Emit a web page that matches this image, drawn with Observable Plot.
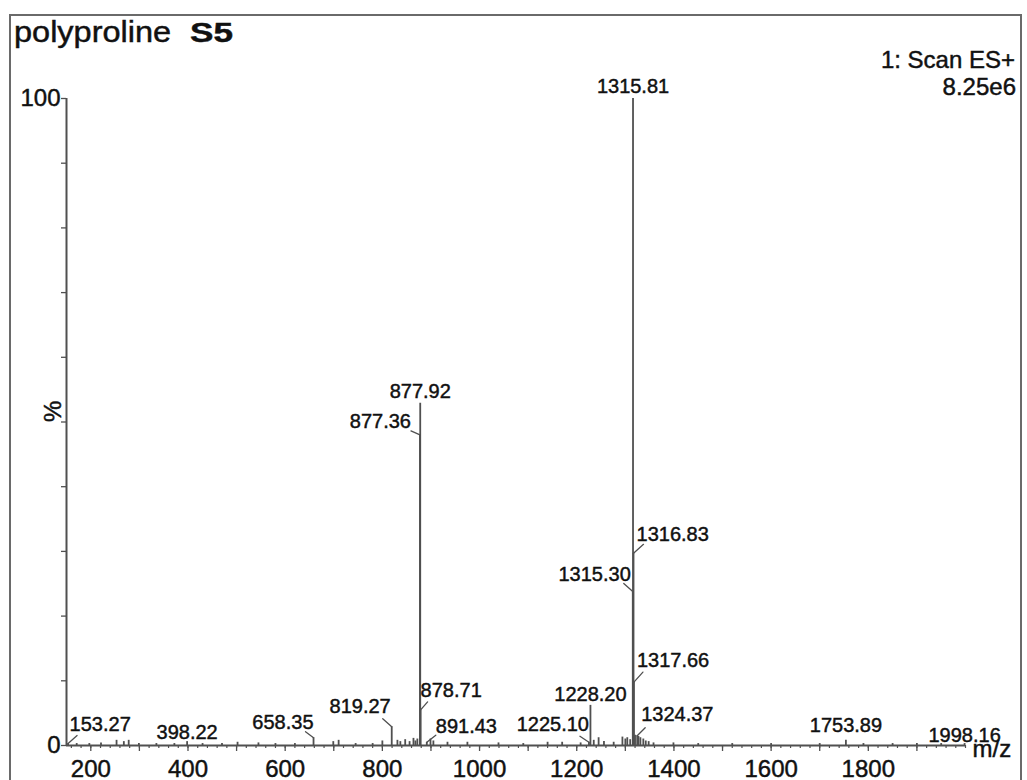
<!DOCTYPE html>
<html>
<head>
<meta charset="utf-8">
<script src="https://cdn.jsdelivr.net/npm/d3@7"></script>
<script src="https://cdn.jsdelivr.net/npm/@observablehq/plot@0.6"></script>
<style>
html, body { margin: 0; padding: 0; background: #fff; }
body { width: 1027px; height: 780px; overflow: hidden; position: relative; font-family: "Liberation Sans", Arial, sans-serif; }
#chart { position: absolute; left: 0; top: 0; }
#chart svg text { stroke: #111; stroke-width: 0.45px; }
#frame { position: absolute; left: 9px; top: 14px; width: 1013px; height: 820px; border: 2px solid #6a6a6a; box-sizing: border-box; pointer-events: none; }
.t { position: absolute; color: #111; white-space: nowrap; line-height: 1; -webkit-text-stroke: 0.45px #111; }
#title1 { left: 14px; top: 18px; font-size: 29px; transform: scaleX(1.12); transform-origin: 0 0; }
#title2 { left: 190px; top: 20px; font-size: 27px; font-weight: bold; transform: scaleX(1.3); transform-origin: 0 0; }
#scan { right: 12px; top: 48px; font-size: 24px; }
#intensity { right: 11px; top: 75px; font-size: 24px; }
</style>
</head>
<body>
<div id="chart"></div>
<div id="frame"></div>
<div class="t" id="title1">polyproline</div>
<div class="t" id="title2">S5</div>
<div class="t" id="scan">1: Scan ES+</div>
<div class="t" id="intensity">8.25e6</div>
<script>
// ---- data ----
const labelMz  = [1315.81, 877.92, 877.36, 1316.83, 1315.30, 1317.66, 1228.20, 1225.10, 891.43, 878.71, 819.27, 658.35, 398.22, 153.27, 1324.37, 1753.89, 1998.16];
const labelPct = [100, 52.9, 48.0, 29.7, 23.8, 9.8, 6.2, 0.5, 0.5, 5.5, 2.9, 1.2, 0.6, 0.3, 1.5, 0.8, 0.3];

const noiseMz  = [171, 197, 221, 253, 268, 278, 299, 335, 372, 430, 470, 502, 545, 580, 620, 699, 710, 745, 780, 800, 831, 837, 847, 856, 864, 868, 872, 899, 905, 934, 975, 1039, 1090, 1140, 1170, 1208, 1235, 1245, 1256, 1276, 1294, 1300, 1304, 1310, 1320, 1327, 1331, 1337, 1342, 1348, 1358, 1399, 1450, 1520, 1600, 1700, 1790, 1850, 1900, 1950];
const noisePct = [0.3, 0.3, 0.4, 0.8, 0.6, 0.8, 0.3, 0.3, 0.3, 0.3, 0.3, 0.5, 0.4, 0.3, 0.3, 0.6, 0.8, 0.3, 0.3, 0.7, 0.8, 0.6, 0.9, 0.6, 1.1, 0.7, 1.0, 1.0, 0.7, 0.5, 0.5, 0.4, 0.3, 0.5, 0.5, 0.4, 0.8, 1.2, 0.6, 0.5, 1.3, 1.0, 1.2, 0.9, 1.6, 1.4, 1.2, 1.0, 0.7, 0.6, 0.4, 0.4, 0.3, 0.3, 0.3, 0.3, 0.3, 0.3, 0.3, 0.3];

const xTickLabels = [200, 400, 600, 800, 1000, 1200, 1400, 1600, 1800];
const yTickLabels = [0, 100];

// ---- label layout (pixel offsets of each peak label; same order as labelMz) ----
const labelLayout = [
  {anchor: "middle", dx: 0,   dy: -6,  c: null},
  {anchor: "middle", dx: 0,   dy: -5,  c: null},
  {anchor: "end",    dx: -9,  dy: -7,  c: [-9, -4]},
  {anchor: "start",  dx: 3,   dy: -12, c: [10, -9]},
  {anchor: "end",    dx: -2,  dy: -11, c: [-9, -8]},
  {anchor: "start",  dx: 3,   dy: -15, c: [9, -10]},
  {anchor: "middle", dx: 0,   dy: -4,  c: null},
  {anchor: "end",    dx: 0,   dy: -11, c: [-9, -6]},
  {anchor: "start",  dx: 9,   dy: -9,  c: [9, -7]},
  {anchor: "start",  dx: 0,   dy: -13, c: [7, -8]},
  {anchor: "end",    dx: -1,  dy: -14, c: [-9, -8]},
  {anchor: "end",    dx: 0,   dy: -9,  c: [-8, -6]},
  {anchor: "middle", dx: 0,   dy: -3,  c: null},
  {anchor: "start",  dx: 1.5, dy: -13, c: [9, -8]},
  {anchor: "start",  dx: 4,   dy: -15, c: [8, -8]},
  {anchor: "middle", dx: 0,   dy: -8,  c: null},
  {anchor: "middle", dx: 0,   dy: -2,  c: null}
];

const labelled = labelMz.map((mz, i) => ({mz, pct: labelPct[i], text: mz.toFixed(2)}));
const noise = noiseMz.map((mz, i) => ({mz, pct: noisePct[i]}));
const peaks = noise.concat(labelled);

const GRAY = "#505050";
const INK = "#111";
const lineShape = {draw(context, l) { context.moveTo(0, 0); context.lineTo(0, -l); }};

const labelMarks = [];
labelled.forEach((d, i) => {
  const L = labelLayout[i];
  labelMarks.push(Plot.text([d], {
    x: "mz", y: "pct", text: "text",
    dx: L.dx, dy: L.dy, textAnchor: L.anchor, lineAnchor: "bottom",
    fontSize: 20, fill: INK
  }));
  if (L.c) {
    const [cx, cy] = L.c;
    labelMarks.push(Plot.vector([d], {
      x: "mz", y: "pct", anchor: "start", shape: lineShape,
      length: Math.hypot(cx, cy),
      rotate: Math.atan2(cx, -cy) * 180 / Math.PI,
      stroke: GRAY, strokeWidth: 1.3
    }));
  }
});

const chart = Plot.plot({
  width: 1027,
  height: 780,
  marginLeft: 66,
  marginRight: 62,
  marginTop: 98,
  marginBottom: 35,
  style: {fontFamily: "'Liberation Sans', Arial, sans-serif", background: "transparent", overflow: "visible"},
  x: {domain: [150, 2000], label: null},
  y: {domain: [0, 100], label: null},
  marks: [
    // x ticks: minor every 20, major every 100, labels every 200
    Plot.axisX({ticks: d3.range(160, 2001, 20), tickSize: 3, tickFormat: () => "", label: null, stroke: GRAY, strokeWidth: 1.2}),
    Plot.axisX({ticks: d3.range(200, 2000, 100), tickSize: 6, tickFormat: () => "", label: null, stroke: GRAY, strokeWidth: 1.3}),
    Plot.axisX({ticks: xTickLabels, tickSize: 0, tickPadding: 14, fontSize: 24, tickFormat: d => String(d), label: null, fill: INK}),
    // y ticks every 10, labels at 0 and 100
    Plot.axisY({ticks: d3.range(0, 101, 10), tickSize: 5, tickFormat: () => "", label: null, stroke: GRAY, strokeWidth: 1.3}),
    Plot.axisY({ticks: yTickLabels, tickSize: 0, tickPadding: 6, fontSize: 24, tickFormat: d => String(d), label: null, fill: INK}),
    // axis lines
    Plot.ruleY([0], {stroke: GRAY, strokeWidth: 2}),
    Plot.ruleX([150], {y1: 0, y2: 100, stroke: GRAY, strokeWidth: 2}),
    // spectrum sticks
    Plot.ruleX(peaks, {x: "mz", y1: 0, y2: "pct", stroke: GRAY, strokeWidth: 1.8}),
    ...labelMarks,
    // axis titles
    Plot.text(["m/z"], {frameAnchor: "bottom-right", dx: 7, dy: 11, textAnchor: "start", lineAnchor: "bottom", fontSize: 24, fill: INK}),
    Plot.text(["%"], {frameAnchor: "left", dx: -13, rotate: -90, fontSize: 24, fill: INK})
  ]
});
document.getElementById("chart").appendChild(chart);
</script>
</body>
</html>
